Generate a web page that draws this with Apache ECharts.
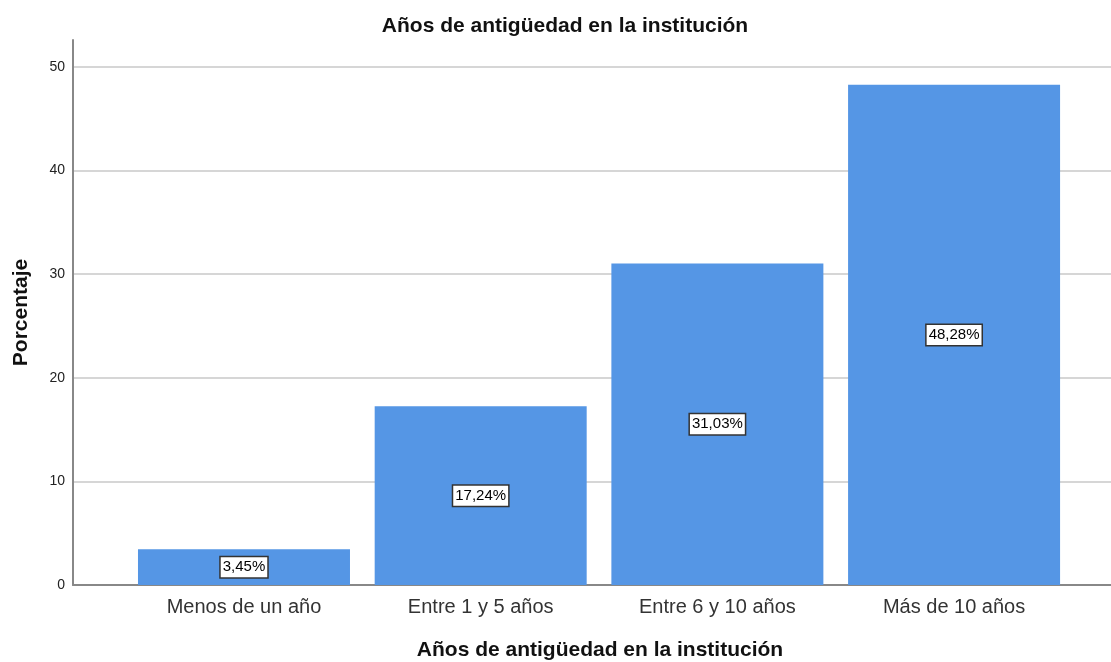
<!DOCTYPE html>
<html>
<head>
<meta charset="utf-8">
<script src="https://cdn.jsdelivr.net/npm/echarts@6/dist/echarts.min.js"></script>
<style>
    html, body { margin: 0; padding: 0; background: #fff; }
    #chart { width: 1111px; height: 662px; }
</style>
</head>
<body>
<div id="chart"></div>
<script>
const categories = ['Menos de un año', 'Entre 1 y 5 años', 'Entre 6 y 10 años', 'Más de 10 años']
const percentages = [3.45, 17.24, 31.03, 48.28]
const yTicks = [0, 10, 20, 30, 40, 50]

// category slots sit at 1..4 on a hidden value axis
const positions = categories.map((c, i) => i + 1)

const myChart = echarts.init(document.getElementById('chart'))
const option = {
    animation: false,
    textStyle: { fontFamily: 'Liberation Sans, Arial, sans-serif' },
    title: {
        text: 'Años de antigüedad en la institución',
        left: 560,
        top: 11,
        textAlign: 'center',
        textStyle: { fontSize: 21, fontWeight: 'bold', color: '#111' }
    },
    graphic: [{
        type: 'text',
        x: 600,
        y: 640,
        style: {
            text: 'Años de antigüedad en la institución',
            font: 'bold 21px Liberation Sans, Arial, sans-serif',
            fill: '#111',
            align: 'center'
        }
    }],
    grid: {
        left: 73,
        right: 0,
        top: 40,
        bottom: 662 - 585,
        containLabel: false
    },
    xAxis: {
        type: 'value',
        min: 0.2776,
        max: 4.663,
        splitLine: { show: false },
        axisTick: { show: false },
        axisLine: { show: true, onZero: false, lineStyle: { color: '#888', width: 2 } },
        axisLabel: {
            customValues: positions,
            formatter: (v) => categories[Math.round(v) - 1] || '',
            fontSize: 20,
            color: '#333',
            margin: 12
        }
    },
    yAxis: {
        type: 'value',
        min: 0,
        max: 52.6,
        interval: 10,
        name: 'Porcentaje',
        nameLocation: 'middle',
        nameGap: 41,
        nameTextStyle: { fontSize: 21, fontWeight: 'bold', color: '#111' },
        axisLine: { show: true, lineStyle: { color: '#888', width: 2 } },
        axisTick: { show: false },
        axisLabel: {
            customValues: yTicks,
            fontSize: 14,
            color: '#222',
            margin: 8
        },
        splitLine: {
            show: true,
            showMinLine: false,
            showMaxLine: false,
            lineStyle: { color: '#d6d6d6', width: 2 }
        }
    },
    series: [{
        type: 'bar',
        data: positions.map((p, i) => [p, percentages[i]]),
        barWidth: 212,
        itemStyle: { color: '#5596e5' },
        label: {
            show: true,
            position: 'inside',
            formatter: (p) => p.value[1].toFixed(2).replace('.', ',') + '%',
            fontSize: 15,
            color: '#000',
            backgroundColor: '#fff',
            borderColor: '#333',
            borderWidth: 1.5,
            padding: [3, 2, 2, 2]
        }
    }]
}
myChart.setOption(option)
</script>
</body>
</html>
